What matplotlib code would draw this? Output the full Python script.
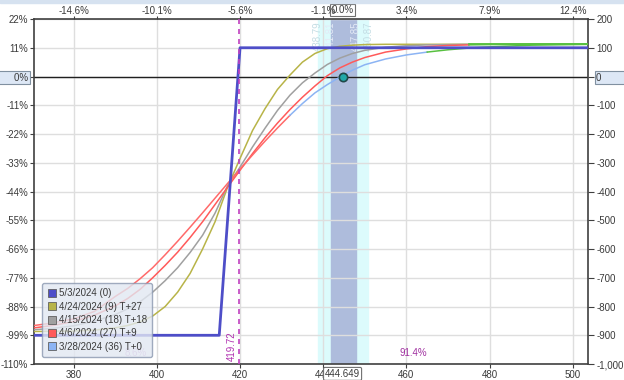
import matplotlib
matplotlib.use("Agg")
import matplotlib.pyplot as plt
from matplotlib.lines import Line2D

plt.rcParams["font.family"] = ["Liberation Sans", "DejaVu Sans"]

# price grid the curves were read at
price = [370, 375, 380, 385, 390, 393, 396, 399, 402, 405, 408, 411, 414, 417,
         420, 423, 426, 429, 432, 435, 438, 441, 444, 447, 450, 455, 460, 465,
         470, 475, 480, 490, 504]

# P/L curves
pl_t0 = [-867, -857, -843, -817, -765, -737, -703, -665, -620, -573, -524, -474,
         -423, -372, -322, -273, -225, -179, -135, -94, -57, -28, -2, 22, 41,
         61, 75, 85, 93, 99, 103, 109, 112]
pl_t9 = [-875, -866, -852, -830, -798, -772, -740, -700, -657, -611, -560, -505,
         -445, -385, -326, -268, -213, -162, -115, -72, -33, 3, 30, 50, 66,
         85, 96, 104, 108, 110, 111, 112, 112]
pl_t18 = [-881, -876, -867, -851, -828, -808, -783, -750, -710, -665, -612, -552,
          -475, -380, -315, -245, -180, -118, -65, -22, 12, 42, 64, 80, 91,
          102, 107, 110, 111, 112, 112, 112, 112]
pl_t27 = [-887, -886, -885, -882, -874, -866, -853, -833, -800, -750, -685, -600,
          -505, -385, -285, -188, -112, -45, 5, 50, 80, 97, 105, 109, 111,
          112, 112, 112, 112, 112, 112, 112, 112]

# expiration line
exp_x = [370, 415, 420, 505]
exp_pl = [-900, -900, 100, 100]

legend_labels = ["5/3/2024 (0)", "4/24/2024 (9) T+27", "4/15/2024 (18) T+18",
                 "4/6/2024 (27) T+9", "3/28/2024 (36) T+0"]

spot = 444.649
breakeven = 419.72
band_outer = (438.79, 450.87)
band_inner = (441.81, 447.85)

x_ticks = [380, 400, 420, 440, 460, 480, 500]
top_labels = ["-14.6%", "-10.1%", "-5.6%", "-1.1%", "3.4%", "7.9%", "12.4%"]
y_ticks = list(range(200, -1001, -100))
pct_labels = ["22%", "11%", "0%", "-11%", "-22%", "-33%", "-44%", "-55%", "-66%",
              "-77%", "-88%", "-99%", "-110%"]

c_exp = "#4e4ec8"
c_t27 = "#b8b448"
c_t18 = "#a0a0a0"
c_t9 = "#ff5a5a"
c_t0 = "#8cb4f4"
c_t0_low = "#ff6a6a"
c_green = "#58c040"
txt = "#3a3a3a"
fs = 7


def seg(xs, ys, lo, hi):
    idx = [i for i, p in enumerate(xs) if lo <= p <= hi]
    return [xs[i] for i in idx], [ys[i] for i in idx]


fig = plt.figure(figsize=(6.24, 3.80), dpi=100)
ax = fig.add_axes([0.054, 0.042, 0.888, 0.908])
ax.set_xlim(370.4, 503.6)
ax.set_ylim(-1000, 200)

# shaded price bands
ax.axvspan(*band_outer, color="#dcfbfc", zorder=0)
ax.axvspan(*band_inner, color="#aebcdc", zorder=0.5)

ax.set_xticks(x_ticks)
ax.set_yticks(y_ticks)
ax.grid(True, color="#dedede", lw=1)
ax.axhline(0, color="#202020", lw=1, zorder=2)

# curves, right ends turn green like the reference
for ys, col in [(pl_t27, c_t27), (pl_t18, c_t18), (pl_t9, c_t9)]:
    ax.plot(*seg(price, ys, 0, 475), color=col, lw=1.1, zorder=3)
    ax.plot(*seg(price, ys, 475, 600), color=c_green, lw=1.1, zorder=3)
ax.plot(*seg(price, pl_t0, 0, 432), color=c_t0_low, lw=1.1, zorder=3)
ax.plot(*seg(price, pl_t0, 432, 465), color=c_t0, lw=1.1, zorder=3)
ax.plot(*seg(price, pl_t0, 465, 600), color=c_green, lw=1.1, zorder=3)

ax.plot(exp_x, exp_pl, color=c_exp, lw=2, zorder=4)
ax.axvline(breakeven, color="#c040c0", lw=1.2, ls=(0, (3, 3)), zorder=4)
ax.plot([spot], [0], "o", ms=6, mfc="#20a8a8", mec="#204848", mew=1.2, zorder=6)

# band labels
for v, col in [(band_outer[0], "#c4dde4"), (band_inner[0], "#e4eaf6"),
               (band_inner[1], "#e4eaf6"), (band_outer[1], "#c4dde4")]:
    ax.text(v, 193, f"{v:.2f}", rotation=90, ha="center", va="top",
            fontsize=fs, color=col, zorder=2)

ax.text(breakeven - 0.6, -990, f"{breakeven:.2f}", rotation=90, ha="right",
        va="bottom", fontsize=fs, color="#b030b0", zorder=5)
ax.text(461.6, -962, "91.4%", ha="center", va="center", fontsize=fs,
        color="#a030a0", zorder=5)
ax.text(394.9, -962, "8.6%", ha="center", va="center", fontsize=fs,
        color="#d0a0d8", zorder=5)

# left axis (percent)
ax.set_xticklabels([str(t) for t in x_ticks])
ax.set_yticklabels([("        0%" if l == "0%" else l) for l in pct_labels])
ax.tick_params(axis="y", labelsize=fs, labelcolor=txt, color="#404040",
               length=3, pad=1)
ax.tick_params(axis="x", labelsize=fs, labelcolor=txt, color="#404040",
               length=3, pad=1)
for s in ax.spines.values():
    s.set_color("#404040")
    s.set_linewidth(1.2)
ax.get_yticklabels()[2].set_bbox(dict(boxstyle="square,pad=0.15", fc="#dde7f5",
                                      ec="#8090a0", lw=0.8))

# right axis (P/L)
axr = ax.twinx()
axr.set_ylim(ax.get_ylim())
axr.set_yticks(y_ticks)
axr.set_yticklabels([("0          " if v == 0 else f"{v:,}") for v in y_ticks])
axr.tick_params(axis="y", labelsize=fs, labelcolor=txt, color="#404040",
                length=4, pad=2)
axr.get_yticklabels()[2].set_bbox(dict(boxstyle="square,pad=0.15", fc="#dde7f5",
                                       ec="#8090a0", lw=0.8))
for s in axr.spines.values():
    s.set_visible(False)

# top axis (percent move)
axt = ax.twiny()
axt.set_xlim(ax.get_xlim())
axt.set_xticks(x_ticks)
axt.set_xticklabels(top_labels)
axt.tick_params(axis="x", labelsize=fs, labelcolor=txt, color="#404040",
                length=2, pad=0.5)
for s in axt.spines.values():
    s.set_visible(False)

# boxed current price labels
ax.text(spot, 1.012, "0.0%", transform=ax.get_xaxis_transform(), ha="center",
        va="bottom", fontsize=fs, color=txt, zorder=7,
        bbox=dict(boxstyle="square,pad=0.12", fc="white", ec="#707070", lw=0.8))
ax.text(spot, -0.014, "444.649", transform=ax.get_xaxis_transform(), ha="center",
        va="top", fontsize=fs, color=txt, zorder=7, clip_on=False,
        bbox=dict(boxstyle="round,pad=0.15", fc="white", ec="#707070", lw=0.8))

# legend
handles = [Line2D([], [], marker="s", ls="", ms=5.5, mfc=c, mec="#606060", mew=0.6)
           for c in [c_exp, c_t27, c_t18, c_t9, c_t0]]
leg = ax.legend(handles, legend_labels, loc="lower left",
                bbox_to_anchor=(0.006, 0.006), fontsize=fs, labelcolor=txt,
                frameon=True, fancybox=True, framealpha=0.8,
                facecolor="#e2e8f2", edgecolor="#8a98b0", labelspacing=0.35,
                handletextpad=0.2, borderpad=0.55, handlelength=1.0)
leg.set_zorder(8)

# thin strip along the top of the figure
fig.patches.append(plt.Rectangle((0, 0.992), 1, 0.008, transform=fig.transFigure,
                                 color="#d6e2f0"))

fig.savefig("out.png", dpi=100)
